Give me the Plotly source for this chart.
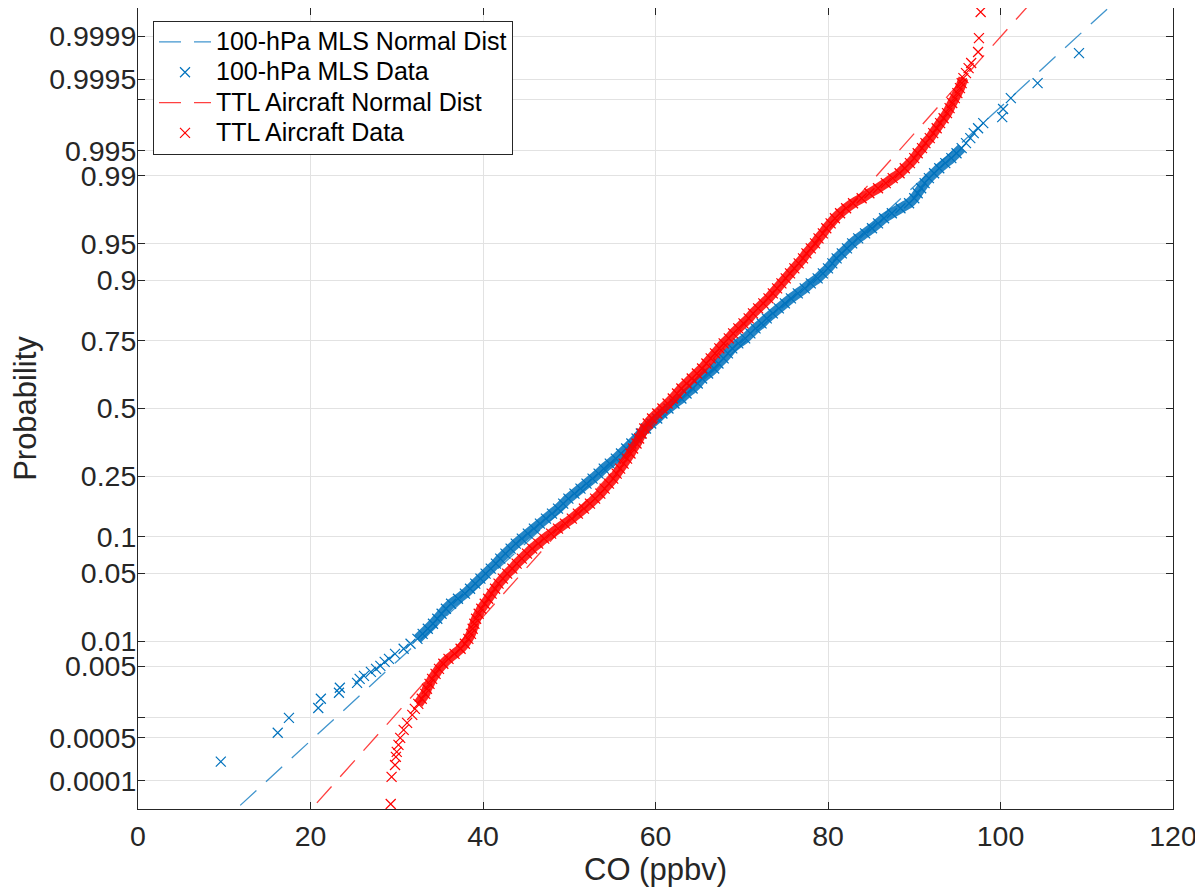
import plotly.graph_objects as go
from statistics import NormalDist

# ---------------- data ----------------
x_tick_vals = [0, 20, 40, 60, 80, 100, 120]
prob_ticks = [0.0001, 0.0005, 0.001, 0.005, 0.01, 0.05, 0.1, 0.25, 0.5, 0.75,
              0.9, 0.95, 0.99, 0.995, 0.999, 0.9995, 0.9999]
prob_tick_text = ["0.0001", "0.0005", "", "0.005", "0.01", "0.05", "0.1", "0.25", "0.5",
                  "0.75", "0.9", "0.95", "0.99", "0.995", "", "0.9995", "0.9999"]

# fitted normal distributions (mean, sigma) in ppbv
mls_fit = (61.95, 12.64)
ttl_fit = (61.55, 10.36)

# 100-hPa MLS data: probability vs CO (ppbv)
mls_prob = [0.00021, 0.00060, 0.00100, 0.00139, 0.00187, 0.00226, 0.00264, 0.00307, 0.00347,
            0.00379, 0.00427, 0.00466, 0.00508, 0.00570,
            0.00621, 0.00714, 0.00820, 0.00939, 0.01072, 0.01222, 0.01390, 0.01578, 0.01786,
            0.02018, 0.02275, 0.0256, 0.0287, 0.0322, 0.0359, 0.0401, 0.0446, 0.0495, 0.0548,
            0.0606, 0.0668, 0.0735, 0.0808, 0.0885, 0.0968, 0.1056, 0.1151, 0.1251, 0.1357,
            0.1469, 0.1587, 0.1711, 0.1841, 0.1977, 0.2119, 0.2266, 0.2420, 0.2578, 0.2743,
            0.2912, 0.3085, 0.3264, 0.3446, 0.3632, 0.3821, 0.4013, 0.4207, 0.4404, 0.4602,
            0.4801, 0.5000, 0.5199, 0.5398, 0.5596, 0.5793, 0.5987, 0.6179, 0.6368, 0.6554,
            0.6736, 0.6915, 0.7088, 0.7257, 0.7422, 0.7580, 0.7734, 0.7881, 0.8023, 0.8159,
            0.8289, 0.8413, 0.8531, 0.8643, 0.8749, 0.8849, 0.8944, 0.9032, 0.9115, 0.9192,
            0.9265, 0.9332, 0.9394, 0.9452, 0.9505, 0.9554, 0.9599, 0.9641, 0.9678, 0.9713,
            0.9744, 0.97725, 0.97982, 0.98214, 0.98422, 0.98610, 0.98778, 0.98928, 0.99061,
            0.99180, 0.99286, 0.99379, 0.99461, 0.99534, 0.99598, 0.99653, 0.99702, 0.99744,
            0.99781, 0.99819, 0.99861, 0.999032, 0.999423, 0.999807]
mls_co = [9.6, 16.2, 17.5, 20.9, 21.2, 23.3, 23.4, 25.4, 25.7,
          26.2, 27.0, 27.6, 28.1, 28.6,
          29.1, 29.8, 30.8, 31.6, 32.4, 33.0, 33.6, 34.2, 34.7,
          35.2, 35.7, 36.3, 37.1, 37.9, 38.5, 39.1, 39.7, 40.3, 40.9,
          41.5, 42.0, 42.6, 43.2, 43.8, 44.5, 45.2, 45.9, 46.6, 47.3,
          48.0, 48.7, 49.3, 49.9, 50.6, 51.3, 52.0, 52.7, 53.4, 54.0,
          54.7, 55.4, 56.0, 56.6, 57.2, 57.8, 58.3, 58.9, 59.5, 60.2,
          60.8, 61.5, 62.2, 63.0, 63.6, 64.3, 64.9, 65.4, 66.1, 66.8,
          67.3, 67.9, 68.4, 68.9, 69.6, 70.4, 71.0, 71.6, 72.3, 72.9,
          73.6, 74.3, 75.0, 75.7, 76.5, 77.3, 78.0, 78.8, 79.4, 80.0,
          80.5, 81.0, 81.6, 82.2, 82.8, 83.5, 84.3, 85.1, 85.8, 86.5,
          87.4, 88.4, 89.4, 90.0, 90.4, 90.8, 91.2, 91.7, 92.3,
          92.9, 93.6, 94.3, 94.9, 95.5, 96.0, 96.5, 96.9, 97.4,
          98.0, 100.2, 100.3, 101.2, 104.3, 109.1]

# TTL aircraft data: probability vs CO (ppbv)
ttl_prob = [0.000039, 0.000117, 0.000185, 0.000251, 0.000302, 0.000390, 0.000501, 0.000664,
            0.000845, 0.001107,
            0.00135, 0.00159, 0.00187, 0.00219, 0.00256, 0.00298, 0.00347, 0.00402, 0.00466,
            0.00539, 0.00621, 0.00714, 0.00820, 0.00939, 0.01072, 0.01222, 0.01390, 0.01578,
            0.01786, 0.02018, 0.02275, 0.0256, 0.0287, 0.0322, 0.0359, 0.0401, 0.0446, 0.0495,
            0.0548, 0.0606, 0.0668, 0.0735, 0.0808, 0.0885, 0.0968, 0.1056, 0.1151, 0.1251,
            0.1357, 0.1469, 0.1587, 0.1711, 0.1841, 0.1977, 0.2119, 0.2266, 0.2420, 0.2578,
            0.2743, 0.2912, 0.3085, 0.3264, 0.3446, 0.3632, 0.3821, 0.4013, 0.4207, 0.4404,
            0.4602, 0.4801, 0.5000, 0.5199, 0.5398, 0.5596, 0.5793, 0.5987, 0.6179, 0.6368,
            0.6554, 0.6736, 0.6915, 0.7088, 0.7257, 0.7422, 0.7580, 0.7734, 0.7881, 0.8023,
            0.8159, 0.8289, 0.8413, 0.8531, 0.8643, 0.8749, 0.8849, 0.8944, 0.9032, 0.9115,
            0.9192, 0.9265, 0.9332, 0.9394, 0.9452, 0.9505, 0.9554, 0.9599, 0.9641, 0.9678,
            0.9713, 0.9744, 0.97725, 0.97982, 0.98214, 0.98422, 0.98610, 0.98778, 0.98928,
            0.99061, 0.99180, 0.99286, 0.99379, 0.99461, 0.99534, 0.99598, 0.99653, 0.99702,
            0.99744, 0.99781, 0.99813, 0.99841, 0.99865, 0.99886, 0.999032, 0.999184,
            0.999313, 0.999423, 0.999517, 0.999596, 0.999663, 0.999720,
            0.999815, 0.999892, 0.9999625]
ttl_co = [29.3, 29.4, 29.8, 29.9, 30.0, 30.2, 30.4, 30.8,
          31.2, 31.8,
          32.1, 32.5, 32.9, 33.3, 33.5, 33.8, 34.1, 34.5, 34.9,
          35.4, 36.0, 36.7, 37.4, 37.9, 38.3, 38.6, 38.8, 39.0,
          39.2, 39.5, 39.8, 40.2, 40.6, 41.0, 41.4, 41.8, 42.3, 42.8,
          43.4, 43.9, 44.5, 45.1, 45.7, 46.4, 47.1, 47.9, 48.7, 49.5,
          50.3, 51.0, 51.7, 52.4, 53.0, 53.6, 54.1, 54.6, 55.1, 55.5,
          55.9, 56.3, 56.7, 57.1, 57.4, 57.8, 58.1, 58.4, 58.7, 59.1,
          59.6, 60.2, 60.8, 61.4, 62.0, 62.5, 63.0, 63.6, 64.2, 64.8,
          65.4, 65.9, 66.4, 66.9, 67.4, 67.9, 68.5, 69.0, 69.6, 70.2,
          70.8, 71.3, 71.9, 72.5, 73.1, 73.6, 74.1, 74.6, 75.1, 75.6,
          76.1, 76.6, 77.1, 77.5, 78.0, 78.5, 78.9, 79.4, 79.8, 80.3,
          80.8, 81.4, 82.1, 82.9, 83.9, 84.8, 85.8, 86.7, 87.5,
          88.3, 88.9, 89.5, 90.0, 90.4, 90.9, 91.3, 91.8, 92.2,
          92.6, 93.0, 93.4, 93.8, 94.1, 94.4, 94.7, 95.0,
          95.3, 95.5, 95.7, 96.0, 96.3, 96.6,
          97.4, 97.5, 97.7]

# ---------------- styling ----------------
BLUE = "#0072BD"
RED = "#FF0000"
INK = "#262626"
FONT = "Liberation Sans, Arial, Helvetica, sans-serif"
Y_RANGE = [-4.0, 4.0]
LEGEND_TEXT_PX = 25      # rendered legend text size
LEGEND_ROW_FONT = 21     # font size that sets the legend row pitch
# probability span treated as the dense (overplotted) body of each sample
mls_body = (0.0107, 0.9954)
ttl_body = (0.0015, 0.99955)

nd = NormalDist()


def probit(ps):
    return [nd.inv_cdf(p) for p in ps]


def fit_line(fit):
    mu, sd = fit
    zs = [Y_RANGE[0] - 0.2, Y_RANGE[1] + 0.2]
    return [mu + sd * z for z in zs], zs


def body(ps, xs, lim):
    sel = [(p, x) for p, x in zip(ps, xs) if lim[0] <= p <= lim[1]]
    return [s[1] for s in sel], probit([s[0] for s in sel])


def legend_label(text):
    return "<span style='font-size:%dpx'>%s</span>" % (LEGEND_TEXT_PX, text)


fig = go.Figure()

series = [
    ("100-hPa MLS", mls_fit, mls_prob, mls_co, mls_body, BLUE),
    ("TTL Aircraft", ttl_fit, ttl_prob, ttl_co, ttl_body, RED),
]
for name, fit, ps, xs, lim, col in series:
    lx, lz = fit_line(fit)
    fig.add_trace(go.Scatter(x=lx, y=lz, mode="lines",
                             name=legend_label(name + " Normal Dist"),
                             line=dict(color=col, width=1.3, dash="22px,13px"),
                             opacity=0.75))
    bx, bz = body(ps, xs, lim)
    fig.add_trace(go.Scatter(x=bx, y=bz, mode="lines", showlegend=False, hoverinfo="skip",
                             line=dict(color=col, width=10, shape="spline", smoothing=0.6),
                             opacity=0.85))
    fig.add_trace(go.Scatter(x=xs, y=probit(ps), mode="markers",
                             name=legend_label(name + " Data"),
                             marker=dict(symbol="x-thin", size=10,
                                         line=dict(color=col, width=1.2))))

axis_common = dict(
    showline=True, linecolor=INK, linewidth=1, mirror="ticks",
    ticks="inside", ticklen=7, tickcolor=INK, tickwidth=1,
    showgrid=True, gridcolor="#E2E2E2", gridwidth=1, zeroline=False,
    automargin=False,
    tickfont=dict(family=FONT, size=28.5, color=INK),
)

# the page body adds an 8px offset, so the figure is sized to fit inside the window
fig.update_layout(
    width=1195, height=883,
    margin=dict(l=130, r=30, t=0, b=82, autoexpand=False),
    paper_bgcolor="white", plot_bgcolor="white",
    font=dict(family=FONT, color=INK),
    xaxis=dict(range=[0, 120], tickvals=x_tick_vals,
               title=dict(text="CO (ppbv)", font=dict(family=FONT, size=31, color=INK),
                          standoff=3),
               ticklabelstandoff=2, **axis_common),
    yaxis=dict(range=Y_RANGE, tickvals=probit(prob_ticks), ticktext=prob_tick_text,
               title=dict(text="Probability", font=dict(family=FONT, size=31, color=INK),
                          standoff=4),
               ticklabelstandoff=-5, **axis_common),
    legend=dict(x=0.0145, y=0.984, xanchor="left", yanchor="top",
                bgcolor="white", bordercolor=INK, borderwidth=1,
                font=dict(family=FONT, size=LEGEND_ROW_FONT, color="#000000"),
                tracegroupgap=0, itemwidth=52),
    showlegend=True,
)

fig.write_html("out.html")
